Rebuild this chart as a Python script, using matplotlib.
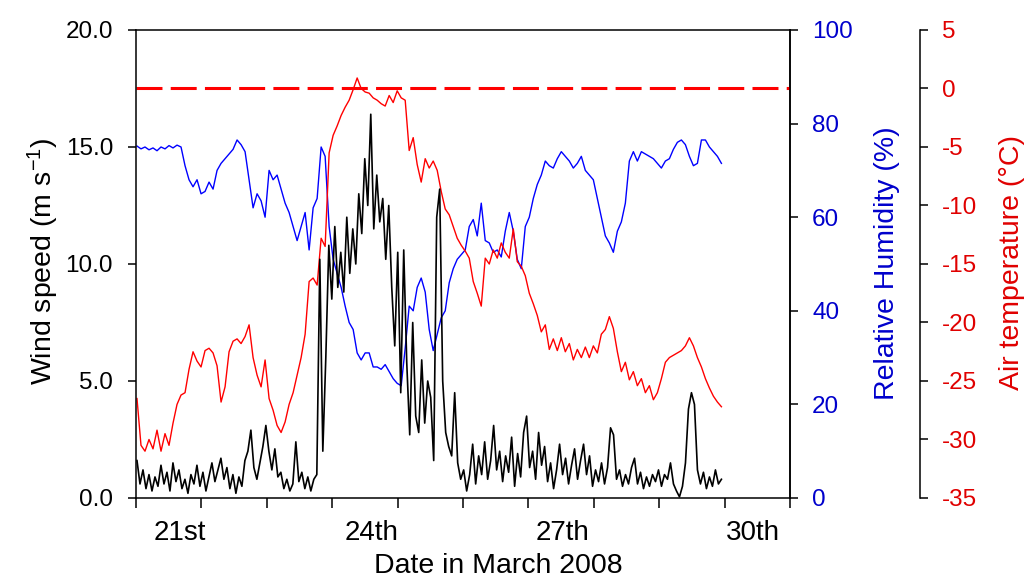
import matplotlib
matplotlib.use('Agg')
import matplotlib.pyplot as plt
import numpy as np
from matplotlib.ticker import FormatStrFormatter

plt.rcParams['font.family'] = ['Liberation Sans', 'DejaVu Sans']
plt.rcParams['axes.unicode_minus'] = False
plt.rcParams['mathtext.default'] = 'regular'

# span of the records, as day of March 2008
start_day = 20.325
end_day = 29.5

# wind speed (m/s)
wind_speed = [
    1.6, 0.6, 1.2, 0.4, 1.0, 0.3, 0.9, 0.5, 1.4, 0.6,
    1.1, 0.3, 1.5, 0.7, 1.2, 0.4, 0.8, 0.2, 1.0, 0.6,
    1.4, 0.5, 1.1, 0.3, 0.9, 1.5, 0.7, 1.2, 1.7, 0.8,
    1.3, 0.4, 1.0, 0.2, 0.9, 0.5, 1.6, 2.0, 2.9, 1.3,
    0.8, 1.5, 2.2, 3.1, 2.0, 1.2, 2.1, 0.9, 1.1, 0.4,
    0.8, 0.3, 0.6, 2.4, 0.7, 1.1, 0.4, 0.9, 0.3, 0.8,
    1.0, 10.2, 2.0, 6.0, 10.8, 8.5, 11.6, 9.0, 10.5, 8.8,
    12.0, 9.6, 11.5, 10.0, 13.0, 11.3, 14.5, 12.5, 16.4, 11.5,
    13.8, 11.8, 12.8, 10.2, 12.5, 9.0, 6.5, 10.5, 4.5, 10.6,
    5.8, 2.7, 7.5, 3.5, 2.8, 5.9, 3.2, 5.0, 4.3, 1.6,
    12.0, 13.2, 5.0, 2.8, 2.2, 1.8, 4.5, 1.5, 0.8, 1.2,
    0.3, 1.0, 2.3, 0.6, 1.8, 1.0, 2.4, 0.8, 1.6, 3.1,
    1.2, 2.0, 0.7, 1.8, 1.1, 2.6, 0.5, 1.9, 0.9, 2.8,
    3.5, 1.3, 2.0, 0.8, 2.8, 1.4, 2.2, 0.7, 1.5, 0.4,
    1.2, 2.3, 1.0, 1.7, 0.6, 1.4, 2.1, 0.8, 1.6, 2.3,
    1.0, 1.8, 0.5, 1.2, 0.7, 1.5, 0.6, 1.3, 3.0, 2.7,
    0.8, 1.2, 0.5, 1.0, 0.6, 1.3, 1.7, 0.6, 1.1, 0.4,
    0.9, 0.5, 1.0, 0.7, 1.2, 0.5, 1.0, 0.8, 1.5, 0.6,
    0.3, 0.05, 0.5, 1.5, 3.8, 4.5, 4.0, 1.2, 0.6, 1.1,
    0.4, 0.9, 0.5, 1.2, 0.6, 0.8,
]

# relative humidity (%)
rel_humidity = [
    75.2, 74.6, 75.0, 74.4, 74.8, 74.2, 75.0, 74.6, 75.3, 74.8,
    75.4, 75.0, 71.0, 68.0, 66.5, 68.0, 65.0, 65.5, 67.5, 66.0,
    70.0, 71.5, 72.5, 73.5, 74.5, 76.5, 75.5, 74.0, 68.0, 62.0,
    65.0, 63.5, 60.0, 70.0, 68.0, 69.0, 66.0, 63.0, 61.0, 58.0,
    55.0, 58.0, 61.0, 53.0, 62.0, 64.0, 75.0, 73.0, 58.0, 51.0,
    48.0, 45.0, 41.0, 37.5, 36.0, 31.0, 29.5, 31.0, 31.0, 28.0,
    28.0, 27.5, 28.5, 27.0, 25.5, 24.5, 24.0, 32.0, 41.0, 40.0,
    45.0, 47.0, 44.0, 36.0, 31.5, 35.0, 38.5, 40.0, 46.0, 49.0,
    51.0, 52.0, 53.0, 58.0, 59.5, 56.0, 63.0, 55.0, 54.5, 52.5,
    53.0, 51.5, 57.0, 61.0, 57.0, 51.0, 49.0, 58.0, 60.0, 64.0,
    67.0, 69.0, 72.0, 71.0, 70.5, 72.5, 74.0, 73.0, 72.0, 70.5,
    71.5, 73.0, 70.0, 69.0, 68.0, 64.0, 60.0, 56.0, 54.5, 52.5,
    57.0, 59.0, 63.0, 72.0, 74.0, 72.0, 74.0, 73.5, 73.0, 72.5,
    71.5, 70.5, 72.0, 72.5, 74.5, 76.0, 76.5, 75.5, 73.0, 71.0,
    71.5, 76.5, 76.5, 75.0, 74.0, 73.0, 71.5,
]

# air temperature (deg C)
air_temp = [
    -26.5, -30.5, -31.0, -30.0, -30.8, -29.2, -31.0, -29.5, -30.5, -28.6,
    -27.0, -26.2, -26.0, -24.0, -22.5, -23.3, -23.8, -22.4, -22.2, -22.6,
    -23.7, -26.8, -25.5, -22.5, -21.6, -21.4, -21.8, -21.2, -20.2, -23.0,
    -24.5, -25.5, -23.2, -26.5, -27.5, -28.8, -29.4, -28.5, -27.0, -26.0,
    -24.5, -23.0, -21.0, -16.5, -16.2, -16.8, -12.8, -13.5, -5.5, -4.0,
    -3.2, -2.3, -1.6, -1.0, -0.1, 0.9, 0.0, -0.3, -0.4, -0.8,
    -1.0, -1.3, -1.5, -0.6, -1.2, -0.2, -0.8, -1.0, -5.3, -4.2,
    -6.5, -8.0, -6.0, -6.8, -6.2, -7.0, -8.8, -10.3, -10.8, -11.8,
    -12.8, -13.4, -13.9, -14.5, -16.5, -17.5, -18.6, -14.5, -15.0, -13.8,
    -14.5, -13.2, -14.0, -14.5, -12.0, -14.8, -15.2, -16.0, -17.5, -18.4,
    -19.4, -20.8, -20.2, -22.3, -21.4, -22.4, -21.3, -22.5, -21.8, -23.2,
    -22.3, -23.0, -22.1, -23.0, -22.0, -22.6, -21.0, -20.6, -19.5, -20.5,
    -22.5, -24.2, -23.4, -24.9, -24.2, -25.4, -24.8, -26.0, -25.4, -26.6,
    -26.0, -24.8, -23.4, -23.0, -22.8, -22.6, -22.4, -22.0, -21.3, -22.0,
    -23.0, -23.8, -24.8, -25.6, -26.3, -26.8, -27.2,
]

freezing_point = 0.0

date_ticks = [21, 24, 27, 30]
date_labels = ['21st', '24th', '27th', '30th']

blue_text = '#0000cc'
red_text = '#e00000'


def make_chart(output_file):
    fig = plt.figure(figsize=(10.27, 5.79), dpi=100)
    ax = fig.add_axes([0.1324, 0.1399, 0.6368, 0.8083])
    ax_rh = ax.twinx()
    ax_t = ax.twinx()

    # wind on top of the other lines
    ax.set_zorder(3)
    ax_t.set_zorder(2)
    ax_rh.set_zorder(1)
    ax.patch.set_visible(False)
    ax_t.patch.set_visible(False)

    t_wind = np.linspace(start_day, end_day, len(wind_speed))
    t_rh = np.linspace(start_day, end_day, len(rel_humidity))
    t_temp = np.linspace(start_day, end_day, len(air_temp))

    ax.plot(t_wind, wind_speed, color='black', lw=1.2)
    ax_rh.plot(t_rh, rel_humidity, color='#0000ff', lw=1.0)
    ax_t.plot(t_temp, air_temp, color='#ff0000', lw=1.0)
    ax_t.axhline(freezing_point, color='#ff0000', lw=2.2, dashes=(8.5, 2.7))

    xmin, xmax = 20.309, 30.576
    ax.set_xlim(xmin, xmax)
    ax.set_ylim(0, 20)
    ax_rh.set_ylim(0, 100)
    ax_t.set_ylim(-35, 5)

    ax.set_xticks(date_ticks)
    ax.set_xticklabels(date_labels)
    ax.set_xticks(np.linspace(xmin, xmax, 11), minor=True)
    ax.tick_params(axis='x', which='major', length=0, pad=15.5, labelsize=20)
    ax.tick_params(axis='x', which='minor', length=7, width=1.1, direction='out')

    ax.set_yticks(np.arange(0, 20.1, 5))
    ax.yaxis.set_major_formatter(FormatStrFormatter('%.1f'))
    ax.tick_params(axis='y', length=6, width=1.1, pad=10.5, labelsize=17.5)

    ax_rh.set_yticks(np.arange(0, 101, 20))
    ax_rh.tick_params(axis='y', length=6, width=1.1, pad=10, labelsize=17.5,
                      labelcolor=blue_text)

    ax_t.set_yticks(np.arange(-35, 6, 5))
    ax_t.spines['right'].set_position(('axes', 1.199))
    ax_t.tick_params(axis='y', length=6, width=1.1, pad=9.5, labelsize=17.5,
                     labelcolor=red_text)

    for a in (ax, ax_rh, ax_t):
        for s in a.spines.values():
            s.set_linewidth(1.1)
    for s in ('left', 'top', 'bottom'):
        ax_rh.spines[s].set_visible(False)
        ax_t.spines[s].set_visible(False)

    fig.text(0.0419, 0.549, 'Wind speed (m s$^{-1}$)', rotation=90,
             ha='center', va='center', fontsize=20.5)
    fig.text(0.8637, 0.546, 'Relative Humidity (%)', rotation=90,
             ha='center', va='center', fontsize=20.5, color=blue_text)
    fig.text(0.9854, 0.546, 'Air temperature (°C)', rotation=90,
             ha='center', va='center', fontsize=20.5, color=red_text)
    fig.text(0.485, 0.0104, 'Date in March 2008', ha='center',
             va='baseline', fontsize=20.5)

    fig.savefig(output_file, dpi=100)
    plt.close(fig)


if __name__ == "__main__":
    make_chart('out.png')
